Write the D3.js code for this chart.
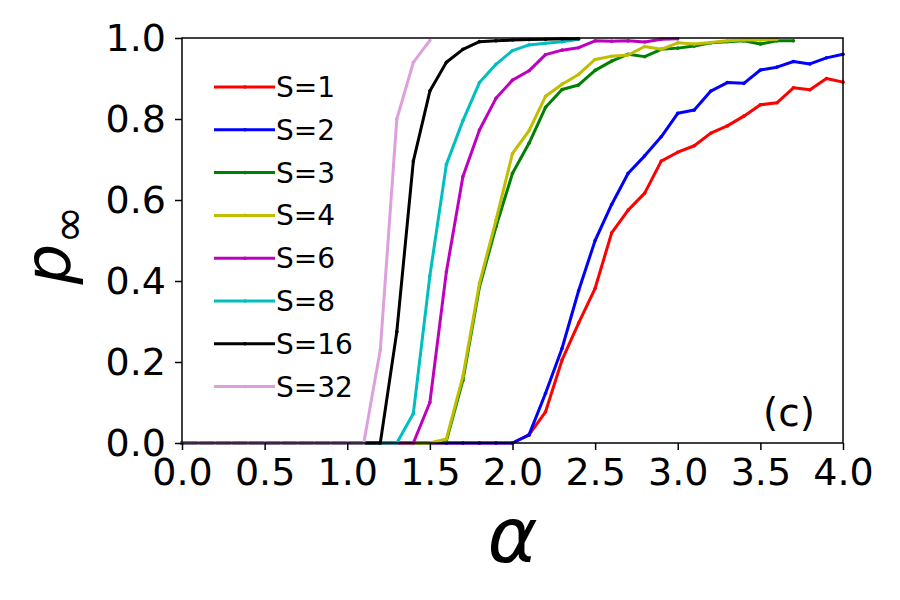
<!DOCTYPE html>
<html>
<head>
<meta charset="utf-8">
<script src="https://cdn.jsdelivr.net/npm/d3@7"></script>
<style>
  html, body { margin: 0; padding: 0; background: #fff; }
  svg { display: block; font-family: "DejaVu Sans", sans-serif; }
</style>
</head>
<body>
<svg id="chart" width="900" height="600"></svg>
<script>
// ---- data ----
const alpha = [0.0,0.1,0.2,0.3,0.4,0.5,0.6,0.7,0.8,0.9,1.0,1.1,1.2,1.3,1.4,1.5,1.6,1.7,1.8,1.9,2.0,
               2.1,2.2,2.3,2.4,2.5,2.6,2.7,2.8,2.9,3.0,3.1,3.2,3.3,3.4,3.5,3.6,3.7,3.8,3.9,4.0];
const seriesNames = ["S=1","S=2","S=3","S=4","S=6","S=8","S=16","S=32"];
const seriesColors = ["#ff0000","#0000ff","#008000","#bfbf00","#bf00bf","#00bfbf","#000000","#dda0dd"];

const s1  = [0,0,0,0,0,0,0,0,0,0,0,0,0,0,0,0,0,0,0,0,0,
             0.02,0.077,0.205,0.296,0.382,0.519,0.575,0.617,0.696,0.718,0.734,0.765,0.783,0.807,0.835,0.84,0.877,0.872,0.9,0.891];
const s2  = [0,0,0,0,0,0,0,0,0,0,0,0,0,0,0,0,0,0,0,0,0,
             0.02,0.123,0.234,0.376,0.5,0.589,0.666,0.709,0.756,0.814,0.822,0.869,0.89,0.888,0.921,0.928,0.942,0.936,0.951,0.96];
const s3  = [0,0,0,0,0,0,0,0,0,0,0,0,0,0,0,0,
             0.005,0.155,0.385,0.534,0.666,0.74,0.829,0.873,0.884,0.92,0.943,0.96,0.954,0.972,0.975,0.98,0.988,0.991,0.993,0.985,0.993,0.993];
const s4  = [0,0,0,0,0,0,0,0,0,0,0,0,0,0,0,0,
             0.01,0.165,0.394,0.55,0.715,0.771,0.856,0.886,0.91,0.947,0.955,0.958,0.979,0.972,0.988,0.985,0.989,0.993,0.995,0.995,0.997];
const s6  = [0,0,0,0,0,0,0,0,0,0,0,0,0,0,0,
             0.10,0.423,0.658,0.773,0.851,0.896,0.919,0.959,0.97,0.976,0.993,0.992,0.993,0.99,0.997,0.998];
const s8  = [0,0,0,0,0,0,0,0,0,0,0,0,0,0,
             0.073,0.413,0.688,0.796,0.89,0.935,0.969,0.983,0.987,0.991,0.997];
const s16 = [0,0,0,0,0,0,0,0,0,0,0,0,0,
             0.275,0.696,0.869,0.94,0.972,0.991,0.993,0.995,0.996,0.997,0.998,0.998];
const s32 = [0,0,0,0,0,0,0,0,0,0,0,0,
             0.23,0.80,0.94,0.994];
const seriesValues = [s1,s2,s3,s4,s6,s8,s16,s32];

const xTicks = [0.0,0.5,1.0,1.5,2.0,2.5,3.0,3.5,4.0];
const yTicks = [0.0,0.2,0.4,0.6,0.8,1.0];

// ---- layout ----
const L = 182, R = 843, T = 38, B = 443;
const svg = d3.select("#chart");
const x = d3.scaleLinear().domain([0,4]).range([L,R]);
const y = d3.scaleLinear().domain([0,1]).range([B,T]);

const line = d3.line().x(d => x(d[0])).y(d => y(d[1]));

const gLines = svg.append("g");
seriesValues.forEach((vals, i) => {
  const pts = vals.map((v, j) => [alpha[j], v]);
  gLines.append("path").datum(pts)
    .attr("d", line).attr("fill","none")
    .attr("stroke", seriesColors[i]).attr("stroke-width", 3)
    .attr("stroke-linejoin","round");
  gLines.append("g").selectAll("circle").data(pts).join("circle")
    .attr("cx", d => x(d[0])).attr("cy", d => y(d[1])).attr("r", 1.8)
    .attr("fill", seriesColors[i]);
});

// ---- axes ----
const fmt = d3.format(".1f");
const xAxis = svg.append("g").attr("transform", `translate(0,${B})`)
  .call(d3.axisBottom(x).tickValues(xTicks).tickFormat(fmt).tickSize(7).tickPadding(8));
const yAxis = svg.append("g").attr("transform", `translate(${L},0)`)
  .call(d3.axisLeft(y).tickValues(yTicks).tickFormat(fmt).tickSize(7).tickPadding(9));
[xAxis, yAxis].forEach(a => {
  a.select(".domain").remove();
  a.selectAll(".tick line").attr("stroke","#000").attr("stroke-width",1.5);
  a.selectAll(".tick text").attr("font-size", 38).attr("fill","#000")
    .attr("font-family","DejaVu Sans, sans-serif");
});

svg.append("rect").attr("x", L).attr("y", T).attr("width", R-L).attr("height", B-T)
  .attr("fill","none").attr("stroke","#000").attr("stroke-width",1.5);

// ---- axis labels ----
svg.append("text").attr("x", (L+R)/2).attr("y", 562)
  .attr("text-anchor","middle").attr("font-size", 76).attr("font-style","italic")
  .text("α");

const yl = svg.append("text").attr("transform", `translate(70,245) rotate(-90)`)
  .attr("text-anchor","middle").attr("font-size", 64);
yl.append("tspan").attr("font-style","italic").text("p");
yl.append("tspan").attr("font-size", 46).attr("dy", 14).text("∞");

// ---- panel tag ----
svg.append("text").attr("x", 789).attr("y", 426).attr("text-anchor","middle")
  .attr("font-size", 39).text("(c)");

// ---- legend ----
const lg = svg.append("g");
seriesNames.forEach((name, i) => {
  const ry = 87 + i * 42.8;
  lg.append("line").attr("x1", 214).attr("x2", 275).attr("y1", ry).attr("y2", ry)
    .attr("stroke", seriesColors[i]).attr("stroke-width", 3);
  lg.append("circle").attr("cx", 245).attr("cy", ry).attr("r", 1.8).attr("fill", seriesColors[i]);
  lg.append("text").attr("x", 276).attr("y", ry).attr("dy","0.36em")
    .attr("font-size", 28).text(name);
});
</script>
</body>
</html>
